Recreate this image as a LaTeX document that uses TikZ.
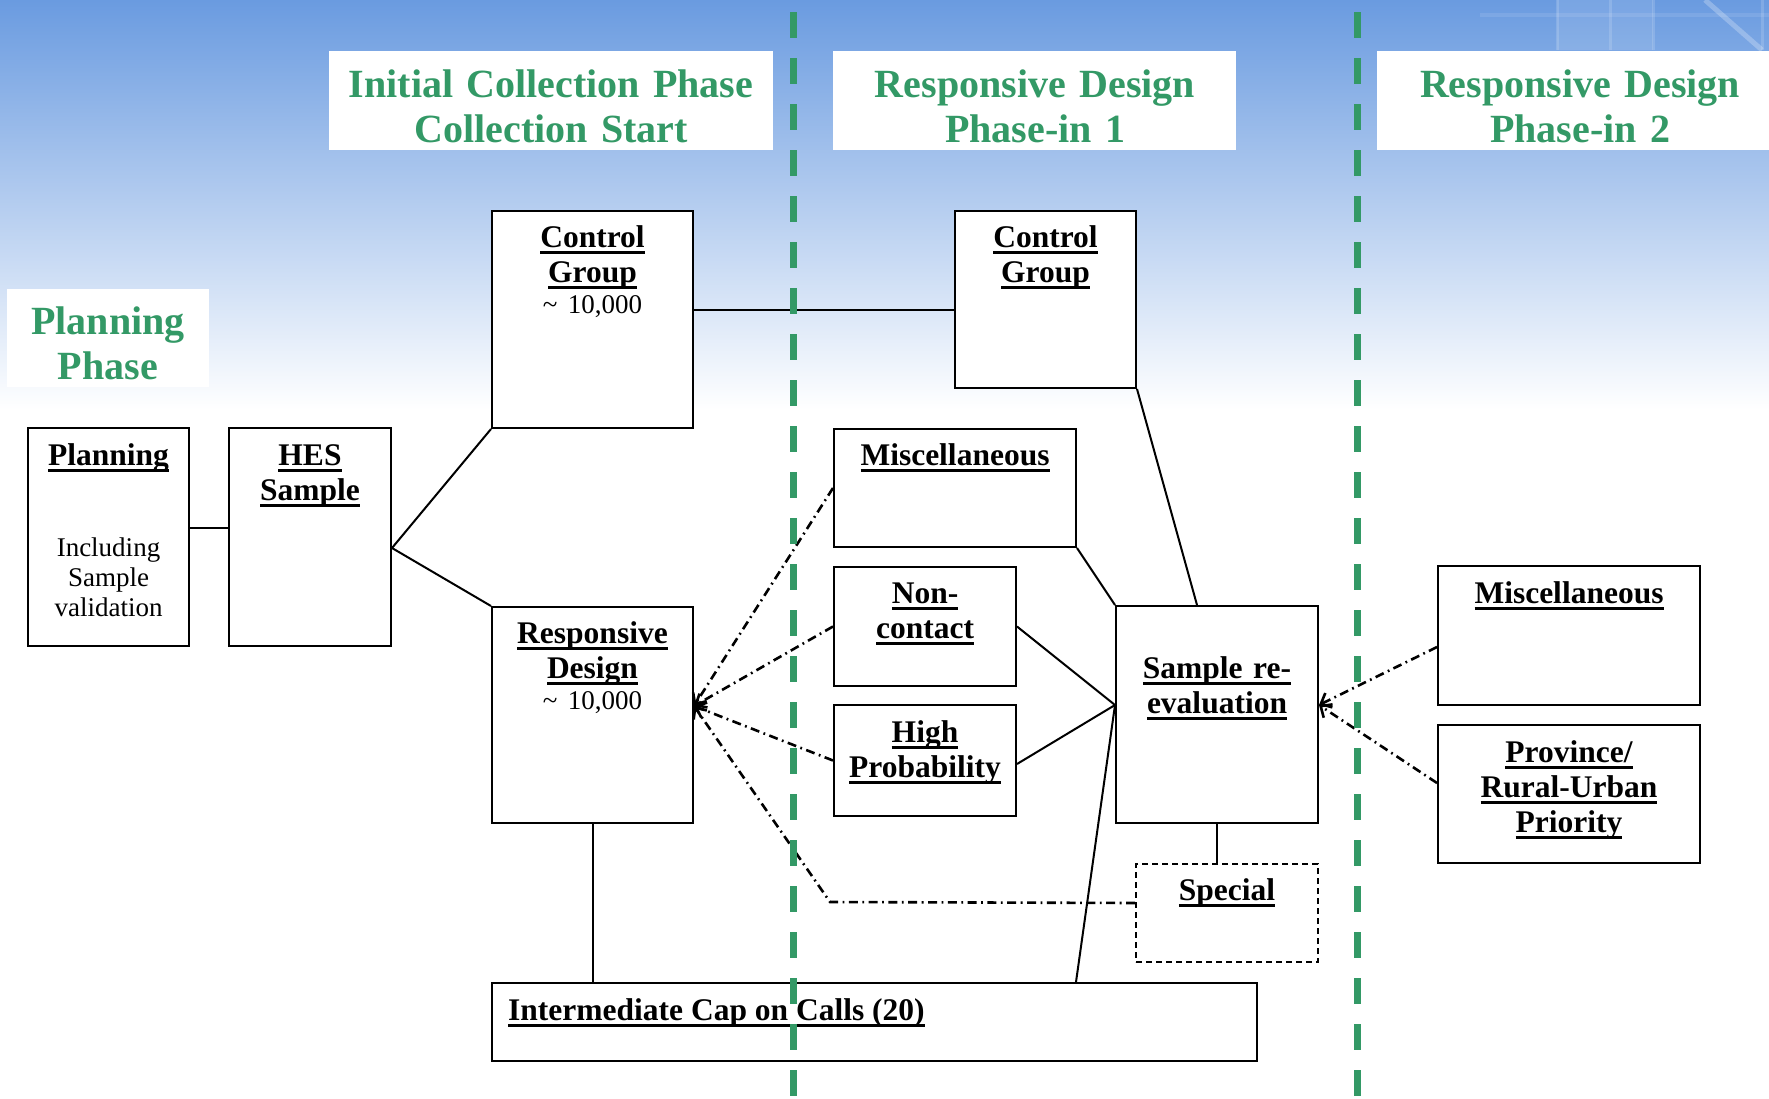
\documentclass[tikz,border=0pt]{standalone}
\usepackage{fontspec}
\setmainfont{Liberation Serif}
\usetikzlibrary{arrows.meta,calc}

\definecolor{phasegreen}{RGB}{51,153,102}
\definecolor{skytop}{RGB}{106,155,224}

\pgfdeclarelayer{sky}
\pgfdeclarelayer{links}
\pgfsetlayers{sky,links,main}

% bold label underlined at a fixed depth below the baseline
\newcommand\ulbf[1]{\setbox0\hbox{#1}\leavevmode\rlap{\rule[-7pt]{\wd0}{3pt}}\box0}

\tikzset{
  box/.style={draw=black, line width=2pt, fill=white, anchor=north west, inner sep=0pt},
  dashbox/.style={box, dash pattern=on 6pt off 4pt},
  phasebox/.style={fill=white, inner sep=0pt, anchor=north west},
  phasetitle/.style={text=phasegreen, font=\fontsize{40}{45}\selectfont\bfseries,
    align=center, anchor=base, inner sep=0pt, text width=440pt},
  boxtitle/.style={font=\fontsize{31.5}{35}\selectfont\bfseries,
    align=center, anchor=base, inner sep=0pt, text width=260pt},
  boxnote/.style={font=\fontsize{27}{30}\selectfont,
    align=center, anchor=base, inner sep=0pt, text width=200pt},
  link/.style={line width=2pt},
  feedback/.style={line width=2.6pt, dash pattern=on 9pt off 4.5pt on 1.8pt off 4.5pt,
    -{Straight Barb[length=9pt,width=16pt,line width=2.6pt]}},
  phaseline/.style={phasegreen, line width=7pt, dash pattern=on 25.5pt off 20.5pt},
}

\begin{document}
\begin{tikzpicture}[x=1pt,y=-1pt]
\useasboundingbox (0,0) rectangle (1769,1098);

% sky background with a faint window pattern in the corner
\begin{pgfonlayer}{sky}
\fill[white] (0,0) rectangle (1769,1098);
\shade[top color=skytop, bottom color=white] (0,0) rectangle (1769,410);
\fill[white, opacity=0.1] (1557,0) rectangle (1653,50);
\draw[white, opacity=0.15, line width=3pt] (1557,0) -- (1557,50) (1610,0) -- (1610,50) (1653,0) -- (1653,50);
\draw[white, opacity=0.1, line width=4pt] (1480,15) -- (1769,15);
\draw[white, opacity=0.25, line width=5pt] (1705,0) -- (1762,50);
\draw[white, opacity=0.15, line width=3pt] (1762,0) -- (1762,50);
\end{pgfonlayer}

% phase headings
\node[phasebox, minimum width=202pt, minimum height=98pt] (t0) at (7,289) {};
\node[phasebox, minimum width=444pt, minimum height=99pt] (t1) at (329,51) {};
\node[phasebox, minimum width=403pt, minimum height=99pt] (t2) at (833,51) {};
\node[phasebox, minimum width=392pt, minimum height=99pt] (t3) at (1377,51) {};
\node[phasetitle] (t0txt) at (108,334) {Planning\\Phase};
\node[phasetitle] (t1txt) at (551,97) {Initial Collection Phase\\Collection Start};
\node[phasetitle] (t2txt) at (1035,97) {Responsive Design\\Phase-in 1};
\node[phasetitle] (t3txt) at (1580,97) {Responsive Design\\Phase-in 2};

% boxes
\path
  (27,427)   node[box, minimum width=161pt, minimum height=218pt] (planning) {}
  (228,427)  node[box, minimum width=162pt, minimum height=218pt] (hes) {}
  (491,210)  node[box, minimum width=201pt, minimum height=217pt] (cg1) {}
  (491,606)  node[box, minimum width=201pt, minimum height=216pt] (rd) {}
  (954,210)  node[box, minimum width=181pt, minimum height=177pt] (cg2) {}
  (833,428)  node[box, minimum width=242pt, minimum height=118pt] (misc1) {}
  (833,566)  node[box, minimum width=182pt, minimum height=119pt] (noncontact) {}
  (833,704)  node[box, minimum width=182pt, minimum height=111pt] (highprob) {}
  (1115,605) node[box, minimum width=202pt, minimum height=217pt] (sre) {}
  (1135,863) node[dashbox, minimum width=182pt, minimum height=98pt] (special) {}
  (491,982)  node[box, minimum width=765pt, minimum height=78pt] (inter) {}
  (1437,565) node[box, minimum width=262pt, minimum height=139pt] (misc2) {}
  (1437,724) node[box, minimum width=262pt, minimum height=138pt] (province) {};

% solid connectors, kept underneath the boxes
\coordinate (hesout) at ([yshift=-11pt]hes.east);
\coordinate (srehub) at ([yshift=9.5pt]sre.west);
\begin{pgfonlayer}{links}
\draw[link] ([yshift=9pt]planning.east) -- ([yshift=9pt]hes.west);
\draw[link] (hesout) -- (cg1.south west);
\draw[link] (hesout) -- (rd.north west);
\draw[link] ([yshift=9.5pt]cg1.east) -- ([yshift=-10.5pt]cg2.west);
\draw[link] (cg2.south east) -- ([xshift=-20pt]sre.north);
\draw[link] (misc1.south east) -- (sre.north west);
\draw[link] (noncontact.east) -- (srehub) -- ([yshift=-3.5pt]highprob.east);
\draw[link] (srehub) -- ([xshift=201.5pt]inter.north);
\draw[link] (rd.south) -- (rd.south |- inter.north);
\draw[link] (sre.south) -- (sre.south |- special.north);
\end{pgfonlayer}

% box labels
\node[boxtitle] (planningtxt) at ([yshift=-38pt]planning.north) {\ulbf{Planning}};
\node[boxnote] (planningnote) at ([yshift=-129pt]planning.north) {Including\\Sample\\validation};
\node[boxtitle] (hestxt) at ([yshift=-38pt]hes.north) {\ulbf{HES}\\\ulbf{Sample}};
\node[boxtitle] (cg1txt) at ([yshift=-37pt]cg1.north)
  {\ulbf{Control}\\\ulbf{Group}\\[-4pt]{\mdseries\fontsize{27}{30}\selectfont\textasciitilde{} 10,000}};
\node[boxtitle] (rdtxt) at ([yshift=-37pt]rd.north)
  {\ulbf{Responsive}\\\ulbf{Design}\\[-4pt]{\mdseries\fontsize{27}{30}\selectfont\textasciitilde{} 10,000}};
\node[boxtitle] (cg2txt) at ([yshift=-37pt]cg2.north) {\ulbf{Control}\\\ulbf{Group}};
\node[boxtitle] (misc1txt) at ([yshift=-37pt]misc1.north) {\ulbf{Miscellaneous}};
\node[boxtitle] (noncontacttxt) at ([yshift=-37pt]noncontact.north) {\ulbf{Non-}\\\ulbf{contact}};
\node[boxtitle] (highprobtxt) at ([yshift=-38pt]highprob.north) {\ulbf{High}\\\ulbf{Probability}};
\node[boxtitle] (sretxt) at ([yshift=-73pt]sre.north) {\ulbf{Sample re-}\\\ulbf{evaluation}};
\node[boxtitle] (specialtxt) at ([yshift=-37pt]special.north) {\ulbf{Special}};
\node[boxtitle] (misc2txt) at ([yshift=-38pt]misc2.north) {\ulbf{Miscellaneous}};
\node[boxtitle] (provincetxt) at ([yshift=-38pt]province.north) {\ulbf{Province/}\\\ulbf{Rural-Urban}\\\ulbf{Priority}};
\node[boxtitle, text width=, anchor=base west] (intertxt) at ([xshift=17pt,yshift=-38pt]inter.north west)
  {\ulbf{Intermediate Cap on Calls (20)}};

% feedback arrows
\coordinate (rdin) at ([yshift=9pt]rd.east);
\coordinate (srein) at ([yshift=9.5pt]sre.east);
\coordinate (bend) at (830,902);
\draw[feedback] (misc1.west) -- (rdin);
\draw[feedback] (noncontact.west) -- (rdin);
\draw[feedback] (highprob.west) -- (rdin);
\draw[feedback] ([yshift=10pt]special.west) -- (bend) -- (rdin);
\draw[feedback] ([yshift=-11.5pt]misc2.west) -- (srein);
\draw[feedback] ([yshift=11pt]province.west) -- (srein);

% phase separators
\draw[phaseline] (793,12) -- (793,1098);
\draw[phaseline] (1357,12) -- (1357,1098);
\end{tikzpicture}
\end{document}
